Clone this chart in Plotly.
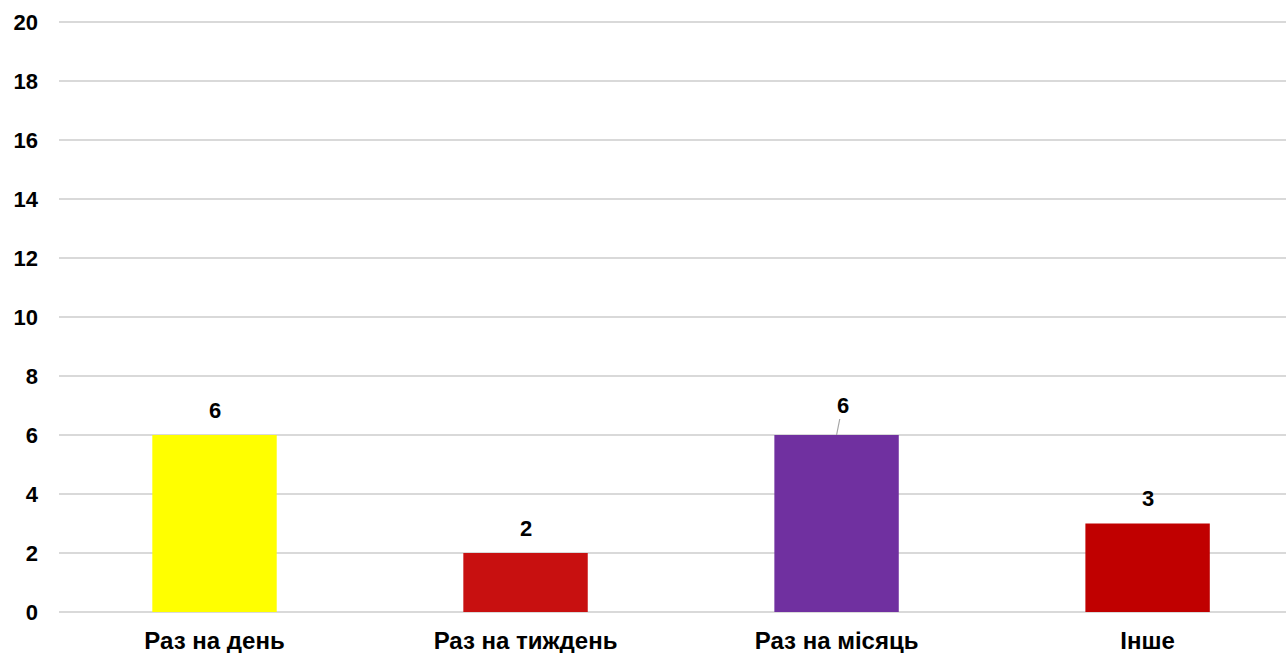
import plotly.graph_objects as go

categories = ["Раз на день", "Раз на тиждень", "Раз на місяць", "Інше"]
values = [6, 2, 6, 3]
colors = ["#FFFF00", "#C81010", "#7030A0", "#C00000"]
y_ticks = list(range(0, 21, 2))

font_family = "Liberation Sans, Arial, sans-serif"
FS = 22

fig = go.Figure()
fig.add_trace(go.Bar(
    x=categories, y=values, marker=dict(color=colors, line=dict(width=0)),
    width=0.4, hoverinfo="skip",
))

for i, (c, v) in enumerate(zip(categories, values)):
    if i == 2:
        fig.add_annotation(x=c, y=v, text=str(v), showarrow=True,
                           ax=6, ay=-30, arrowhead=0, arrowwidth=1.2, arrowcolor="#a6a6a6",
                           standoff=0, startstandoff=0,
                           font=dict(family=font_family, size=FS, color="#000000", weight="bold"))
    else:
        fig.add_annotation(x=c, y=v, text=str(v), showarrow=False, yanchor="middle", yshift=25,
                           font=dict(family=font_family, size=FS, color="#000000", weight="bold"))

fig.update_layout(
    width=1286, height=653,
    margin=dict(l=59, r=0, t=20, b=41, autoexpand=False),
    plot_bgcolor="#FFFFFF", paper_bgcolor="#FFFFFF",
    showlegend=False,
    font=dict(family=font_family, size=FS, color="#000000", weight="bold"),
)
fig.update_xaxes(
    range=[-0.5, 3.445], showgrid=False, zeroline=False, showline=False,
    ticks="", ticklabelstandoff=12, automargin=False,
    tickfont=dict(family=font_family, size=24, color="#000000", weight="bold"),
)
fig.update_yaxes(
    range=[0, 20.068], tickvals=y_ticks, showgrid=True, gridcolor="#D9D9D9", gridwidth=1.5,
    zeroline=True, zerolinecolor="#D9D9D9", zerolinewidth=1.5, showline=False,
    ticks="", ticklabelstandoff=20, automargin=False,
    tickfont=dict(family=font_family, size=FS, color="#000000", weight="bold"),
)

fig.write_html(
    "out.html",
    config={"displayModeBar": False, "staticPlot": True},
    post_script="document.body.style.margin='0';document.body.style.overflow='hidden';",
)
